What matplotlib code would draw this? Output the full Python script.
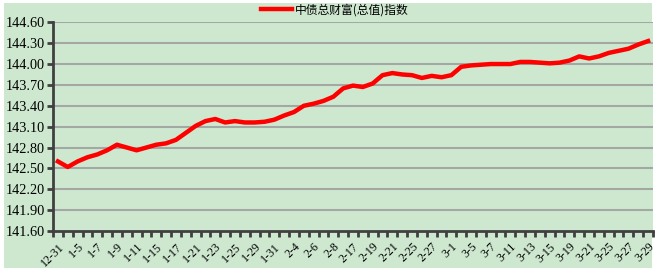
import matplotlib
matplotlib.use('Agg')
import matplotlib.pyplot as plt
import numpy as np
from matplotlib.patches import Rectangle

# trading days shown on the category axis
dates = ['12-31', '1-4', '1-5', '1-6', '1-7', '1-8', '1-9', '1-10', '1-11', '1-14',
         '1-15', '1-16', '1-17', '1-18', '1-21', '1-22', '1-23', '1-24', '1-25', '1-28',
         '1-29', '1-30', '1-31', '2-1', '2-4', '2-5', '2-6', '2-7', '2-8', '2-16',
         '2-17', '2-18', '2-19', '2-20', '2-21', '2-22', '2-25', '2-26', '2-27', '2-28',
         '3-1', '3-4', '3-5', '3-6', '3-7', '3-8', '3-11', '3-12', '3-13', '3-14',
         '3-15', '3-18', '3-19', '3-20', '3-21', '3-22', '3-25', '3-26', '3-27', '3-28',
         '3-29']

index_values = [142.60, 142.52, 142.60, 142.66, 142.70, 142.76, 142.84, 142.80, 142.76, 142.80,
                142.84, 142.86, 142.91, 143.01, 143.11, 143.18, 143.21, 143.16, 143.18, 143.16,
                143.16, 143.17, 143.20, 143.26, 143.31, 143.40, 143.43, 143.47, 143.53, 143.65,
                143.69, 143.67, 143.72, 143.84, 143.87, 143.85, 143.84, 143.80, 143.83, 143.81,
                143.84, 143.96, 143.98, 143.99, 144.00, 144.00, 144.00, 144.03, 144.03, 144.02,
                144.01, 144.02, 144.05, 144.11, 144.08, 144.11, 144.16, 144.19, 144.22, 144.28,
                144.33]

y_ticks = [141.60, 141.90, 142.20, 142.50, 142.80, 143.10, 143.40, 143.70, 144.00, 144.30, 144.60]

series_name = '中债总财富(总值)指数'

BG = '#CEE8D0'
SERIF = 'Liberation Serif'
CJK = ['Noto Sans CJK SC', 'DejaVu Sans']

fig = plt.figure(figsize=(6.56, 2.71), dpi=100, facecolor='white')
bg = Rectangle((4 / 656, 3 / 271), 648 / 656, 265 / 271,
               transform=fig.transFigure, facecolor=BG, edgecolor='none', zorder=-10)
fig.add_artist(bg)

ax = fig.add_axes([53 / 656, 1 - 231 / 271, 600 / 656, (231 - 22.3) / 271])
ax.set_facecolor(BG)

x = np.arange(len(dates))
line, = ax.plot(x, index_values, color='#FF0000', lw=3.2, solid_joinstyle='round',
                label=series_name, zorder=3)

ax.set_xlim(-0.5, len(dates) - 0.5)
ax.set_ylim(y_ticks[0], y_ticks[-1])

ax.set_yticks(y_ticks)
ax.set_yticklabels([f'{v:.2f}' for v in y_ticks], fontfamily=SERIF, fontsize=10.3)
for v in y_ticks[1:]:
    ax.axhline(v, color='#A3A8A3', lw=1.5, zorder=1)

ax.set_xticks(x[::2])
ax.set_xticklabels(dates[::2], rotation=45, ha='right', va='top',
                   rotation_mode='anchor', fontfamily=SERIF, fontsize=8.6)
ax.set_xticks(np.arange(-0.5, len(dates), 1.0), minor=True)
ax.tick_params(axis='x', which='major', length=0, pad=7)
ax.tick_params(axis='x', which='minor', length=4, width=2, color='#404040', direction='out')
ax.tick_params(axis='y', length=4, width=2, color='#404040', direction='out', pad=2)

for side in ('top', 'right'):
    ax.spines[side].set_visible(False)
for side in ('left', 'bottom'):
    ax.spines[side].set_color('#404040')
    ax.spines[side].set_linewidth(2)

fig.legend(handles=[line], loc='center', bbox_to_anchor=(335 / 656, 1 - 10 / 271),
           frameon=False, prop={'family': CJK, 'size': 8.5},
           handlelength=2.6, handletextpad=0.3, borderaxespad=0, borderpad=0)

fig.savefig('out.png', dpi=100, facecolor='white')
